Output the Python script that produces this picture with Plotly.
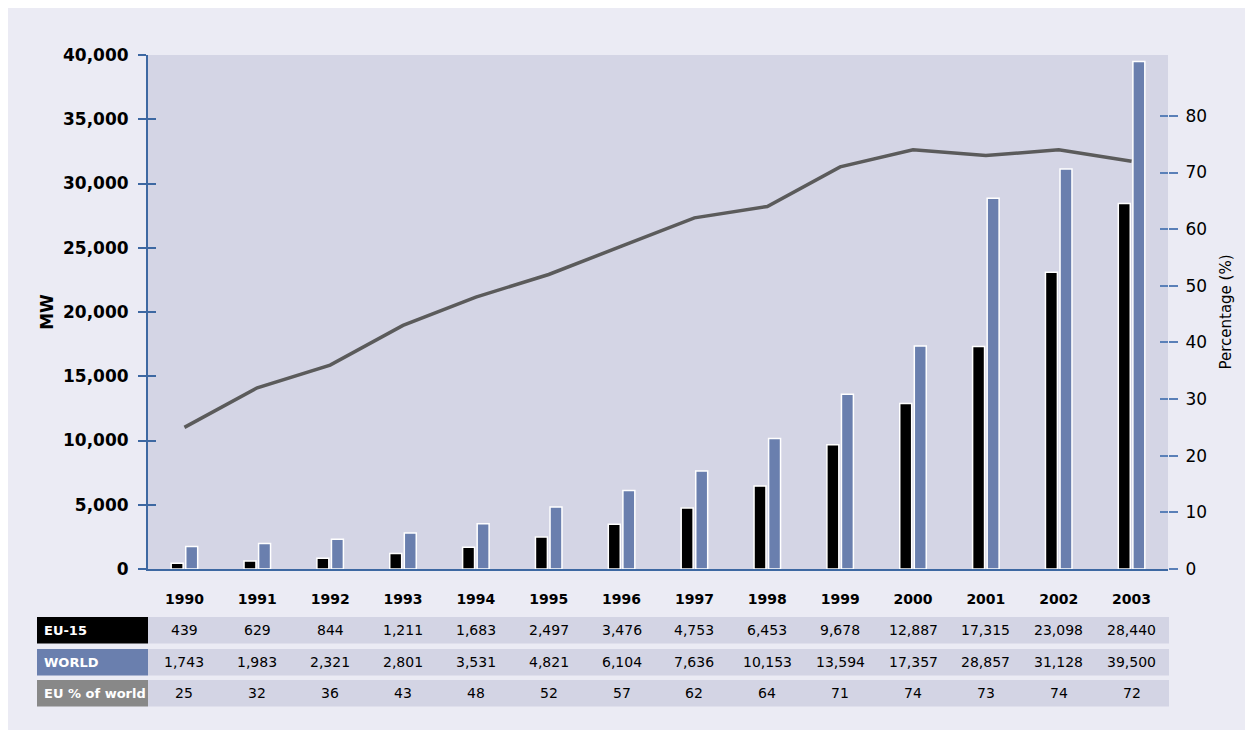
import plotly.graph_objects as go

years = ["1990", "1991", "1992", "1993", "1994", "1995", "1996",
         "1997", "1998", "1999", "2000", "2001", "2002", "2003"]
eu15 = [439, 629, 844, 1211, 1683, 2497, 3476, 4753, 6453, 9678,
        12887, 17315, 23098, 28440]
world = [1743, 1983, 2321, 2801, 3531, 4821, 6104, 7636, 10153, 13594,
         17357, 28857, 31128, 39500]
eu_pct = [25, 32, 36, 43, 48, 52, 57, 62, 64, 71, 74, 73, 74, 72]

left_ticks = [0, 5000, 10000, 15000, 20000, 25000, 30000, 35000, 40000]
right_ticks = [0, 10, 20, 30, 40, 50, 60, 70, 80]

row_labels = ["EU-15", "WORLD", "EU % of world"]
row_colors = ["#000000", "#6a7fae", "#888888"]

# page offset (browser body margin) compensation
OFF = 8
W, H = 1253 - OFF, 730 - OFF
L, R, T, B = 148 - OFF, 1168 - OFF, 55 - OFF, 569 - OFF
PW, PH = R - L, B - T


def px(x):
    return (x - OFF - L) / PW


def py(y):
    return (B - (y - OFF)) / PH


BG = "#ebebf4"
PLOTBG = "#d4d5e5"
AXIS = "#3d68a2"
FONT = "DejaVu Sans"

fig = go.Figure()
fig.add_trace(go.Bar(x=years, y=eu15, name="EU-15",
                     marker=dict(color="#000000", line=dict(color="white", width=1.5))))
fig.add_trace(go.Bar(x=years, y=world, name="WORLD",
                     marker=dict(color="#6a7fae", line=dict(color="white", width=1.5))))
fig.add_trace(go.Scatter(x=years, y=eu_pct, yaxis="y2", mode="lines",
                         name="EU % of world",
                         line=dict(color="#5b5b5b", width=3.5)))
# helper invisible traces for crossing tick marks
fig.add_trace(go.Scatter(x=[years[0]], y=[0], yaxis="y3", mode="markers",
                         marker=dict(opacity=0), hoverinfo="skip", showlegend=False))
fig.add_trace(go.Scatter(x=[years[0]], y=[0], yaxis="y4", mode="markers",
                         marker=dict(opacity=0), hoverinfo="skip", showlegend=False))

shapes = []
annotations = []

# table rows
row_px = [(617, 643.5), (649, 675.5), (680, 706.5)]
row_values = [eu15, world, eu_pct]
for (y0, y1), lab, col, vals in zip(row_px, row_labels, row_colors, row_values):
    shapes.append(dict(type="rect", xref="paper", yref="paper",
                       x0=px(37), x1=px(148), y0=py(y1), y1=py(y0),
                       fillcolor=col, line=dict(width=0)))
    shapes.append(dict(type="rect", xref="paper", yref="paper",
                       x0=px(148), x1=px(1169), y0=py(y1), y1=py(y0),
                       fillcolor="#d3d4e4", line=dict(width=0)))
    yc = py((y0 + y1) / 2)
    annotations.append(dict(xref="paper", yref="paper", x=px(42), y=yc,
                            xanchor="left", yanchor="middle", showarrow=False,
                            text="<b>%s</b>" % lab,
                            font=dict(family=FONT, size=13, color="white")))
    for i, v in enumerate(vals):
        annotations.append(dict(xref="x", yref="paper", x=i, y=yc,
                                xanchor="center", yanchor="middle", showarrow=False,
                                text=f"{v:,}",
                                font=dict(family=FONT, size=14, color="black")))

fig.update_layout(
    width=W, height=H,
    margin=dict(l=L, r=W - R, t=T, b=H - B, pad=0),
    paper_bgcolor=BG, plot_bgcolor=PLOTBG,
    showlegend=False,
    barmode="group", bargap=0.6, bargroupgap=0.18,
    font=dict(family=FONT, color="black"),
    xaxis=dict(type="category", categoryorder="array", categoryarray=years,
               range=[-0.5, 13.5], showline=True, linecolor=AXIS, linewidth=2,
               ticks="", showgrid=False, zeroline=False,
               tickfont=dict(family=FONT, size=14, color="black", weight="bold"),
               ticklabelstandoff=16),
    yaxis=dict(range=[0, 40000], tickvals=left_ticks, tickformat=",",
               showline=True, linecolor=AXIS, linewidth=2,
               ticks="outside", ticklen=8, tickwidth=2, tickcolor=AXIS,
               showgrid=False, zeroline=False, ticklabelstandoff=6,
               tickfont=dict(family=FONT, size=17, color="black", weight="bold"),
               title=dict(text="MW", standoff=5,
                          font=dict(family=FONT, size=17, color="black", weight="bold"))),
    yaxis2=dict(range=[0, 90.75], tickvals=right_ticks, overlaying="y", side="right",
                anchor="x", showline=False, showgrid=False, zeroline=False,
                ticks="outside", ticklen=9, tickwidth=1.5, tickcolor="#5a80b8",
                ticklabelstandoff=4,
                tickfont=dict(family=FONT, size=17, color="black"),
                title=dict(text="Percentage (%)", standoff=14,
                           font=dict(family=FONT, size=15, color="black"))),
    yaxis3=dict(range=[0, 40000], tickvals=left_ticks, overlaying="y", side="left",
                anchor="x", showline=False, showgrid=False, zeroline=False,
                ticks="inside", ticklen=8, tickwidth=2, tickcolor=AXIS,
                showticklabels=False),
    yaxis4=dict(range=[0, 90.75], tickvals=right_ticks, overlaying="y", side="right",
                anchor="x", showline=False, showgrid=False, zeroline=False,
                ticks="inside", ticklen=8, tickwidth=1.5, tickcolor="#5a80b8",
                showticklabels=False),
    shapes=shapes,
    annotations=annotations,
)

fig.write_html("out.html")
